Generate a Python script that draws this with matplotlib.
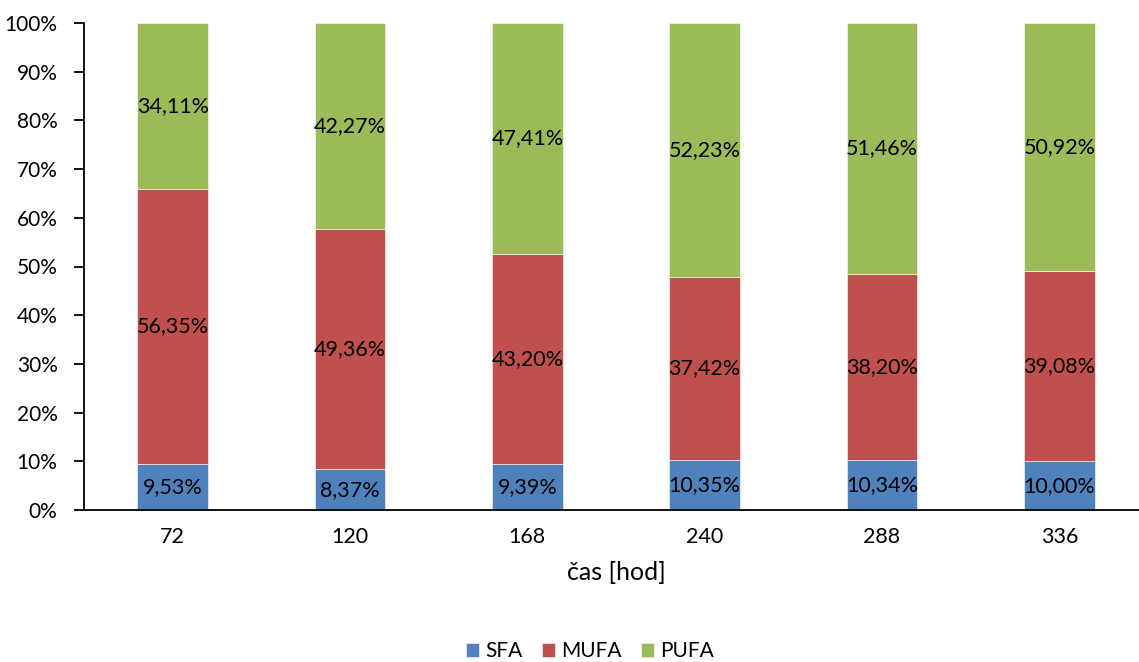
import matplotlib
matplotlib.use("Agg")
import matplotlib.pyplot as plt
import numpy as np
from matplotlib.ticker import FuncFormatter

plt.rcParams['font.family'] = ['Lato', 'DejaVu Sans']

# sampling times [h]
times = ["72", "120", "168", "240", "288", "336"]
# fatty acid shares [%]
sfa = [9.53, 8.37, 9.39, 10.35, 10.34, 10.00]
mufa = [56.35, 49.36, 43.20, 37.42, 38.20, 39.08]
pufa = [34.11, 42.27, 47.41, 52.23, 51.46, 50.92]

series = [("SFA", sfa, "#4F81BD"), ("MUFA", mufa, "#C0504D"), ("PUFA", pufa, "#9BBB59")]

fig = plt.figure(figsize=(11.39, 6.62), dpi=100)
ax = fig.add_axes([84 / 1139, 1 - 510 / 662, (1148 - 84) / 1139, (510 - 23) / 662])

x = np.arange(len(times))
bottom = np.zeros(len(times))
handles = []
for name, vals, col in series:
    vals = np.array(vals)
    bars = ax.bar(x, vals, 0.4, bottom=bottom, color=col, label=name,
                  edgecolor="white", linewidth=0.4)
    handles.append(bars)
    for xi, b, v in zip(x, bottom, vals):
        ax.text(xi, b + v / 2, f"{v:.2f}%".replace(".", ","), ha="center",
                va="center", fontsize=15.5, color="black")
    bottom += vals

ax.set_xlim(-0.5, len(times) - 0.5)
ax.set_ylim(0, 100)
ax.set_yticks(np.arange(0, 101, 10))
ax.yaxis.set_major_formatter(FuncFormatter(lambda v, p: f"{v:.0f}%"))
ax.set_xticks(x)
ax.set_xticklabels(times)
ax.tick_params(axis="x", length=0, pad=12, labelsize=15.5)
ax.tick_params(axis="y", length=7, width=1.3, pad=12, labelsize=15)
for s in ["top", "right"]:
    ax.spines[s].set_visible(False)
for s in ["left", "bottom"]:
    ax.spines[s].set_linewidth(1.3)
ax.set_xlabel("čas [hod]", fontsize=18, labelpad=10)

fig.legend(handles=handles, labels=[s[0] for s in series], loc="center",
           bbox_to_anchor=(590 / 1139, 1 - 651 / 662), ncol=3, frameon=False,
           fontsize=15, handlelength=0.65, handleheight=0.65, columnspacing=0.9,
           handletextpad=0.3)

fig.savefig("out.png", dpi=100)
